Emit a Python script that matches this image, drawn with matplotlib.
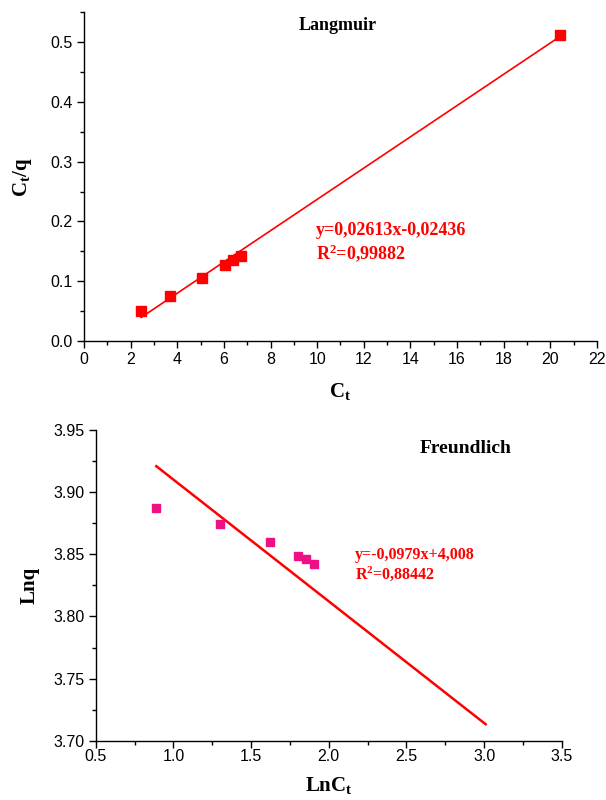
import matplotlib
matplotlib.use("Agg")
import matplotlib.pyplot as plt
from matplotlib.ticker import MultipleLocator
import numpy as np

plt.rcParams['mathtext.fontset'] = 'custom'
plt.rcParams['mathtext.rm'] = 'Liberation Serif'
plt.rcParams['mathtext.bf'] = 'Liberation Serif:bold'
plt.rcParams['mathtext.it'] = 'Liberation Serif:italic'
plt.rcParams['font.family'] = 'Liberation Sans'

# Langmuir data
lang_ct = [2.45, 3.70, 5.05, 6.05, 6.40, 6.75, 20.40]
lang_ctq = [0.050, 0.076, 0.105, 0.128, 0.136, 0.142, 0.511]
lang_slope, lang_int = 0.02613, -0.02436
lang_eq = "y=0,02613x-0,02436"
lang_r2 = "0,99882"

# Freundlich data
fr_lnct = [0.885, 1.30, 1.62, 1.80, 1.855, 1.905]
fr_lnq = [3.887, 3.874, 3.860, 3.849, 3.846, 3.842]
fr_slope, fr_int = -0.0979, 4.008
fr_line_x = [0.89, 3.01]
fr_eq = "y=-0,0979x+4,008"
fr_r2 = "0,88442"

fig = plt.figure(figsize=(6.06, 8.0), dpi=100)

serif = 'Liberation Serif'

def style(ax):
    for s in ['top', 'right']:
        ax.spines[s].set_visible(False)
    for s in ['left', 'bottom']:
        ax.spines[s].set_linewidth(1.0)
    ax.tick_params(which='major', direction='out', length=5, width=1, labelsize=11.5, pad=3)
    ax.tick_params(which='minor', direction='out', length=3, width=1)

# Top: Langmuir
ax1 = fig.add_axes([0.1386, 0.5735, 0.8465, 0.4115])
ax1.plot(lang_ct, lang_ctq, 's', color='#FF0000', markersize=7, zorder=3)
lx = np.array([lang_ct[0], lang_ct[-1]])
ax1.plot(lx, lang_slope * lx + lang_int, '-', color='#FF0000', lw=1.2)
ax1.set_xlim(0, 22)
ax1.set_ylim(0, 0.55)
ax1.xaxis.set_major_locator(MultipleLocator(2))
ax1.xaxis.set_minor_locator(MultipleLocator(1))
ax1.yaxis.set_minor_locator(MultipleLocator(0.05))
ax1.set_yticks([0.0, 0.1, 0.2, 0.3, 0.4, 0.5])
style(ax1)
ax1.set_xlabel(r'C$_\mathbf{t}$', fontsize=15, fontweight='bold', family=serif, labelpad=10)
ax1.set_ylabel(r'C$_\mathbf{t}$/q', fontsize=15, fontweight='bold', family=serif, labelpad=12)
ax1.text(10.9, 0.527, 'Langmuir', fontsize=13, fontweight='bold', family=serif,
         ha='center', va='center')
ax1.text(9.95, 0.185, lang_eq, fontsize=13, fontweight='bold', family=serif,
         color='#FF0000', ha='left', va='center')
ax1.text(9.95, 0.147, r'R$^\mathbf{2}$=' + lang_r2, fontsize=13, fontweight='bold',
         family=serif, color='#FF0000', ha='left', va='center')

# Bottom: Freundlich
ax2 = fig.add_axes([0.158, 0.074, 0.769, 0.3885])
ax2.plot(fr_lnct, fr_lnq, 's', color='#EE1185', markersize=5.3, zorder=3)
fx = np.array(fr_line_x)
ax2.plot(fx, fr_slope * fx + fr_int, '-', color='#FF0000', lw=1.8)
ax2.set_xlim(0.5, 3.5)
ax2.set_ylim(3.70, 3.95)
ax2.xaxis.set_major_locator(MultipleLocator(0.5))
ax2.xaxis.set_minor_locator(MultipleLocator(0.25))
ax2.yaxis.set_major_locator(MultipleLocator(0.05))
ax2.yaxis.set_minor_locator(MultipleLocator(0.025))
ax2.xaxis.set_major_formatter(plt.FormatStrFormatter('%.1f'))
ax2.yaxis.set_major_formatter(plt.FormatStrFormatter('%.2f'))
style(ax2)
ax2.tick_params(axis='x', which='major', pad=1)
ax2.set_xlabel(r'LnC$_\mathbf{t}$', fontsize=15, fontweight='bold', family=serif, labelpad=8)
ax2.set_ylabel('Lnq', fontsize=15, fontweight='bold', family=serif, labelpad=10)
ax2.text(2.88, 3.9355, 'Freundlich', fontsize=14, fontweight='bold', family=serif,
         ha='center', va='center')
ax2.text(2.168, 3.8495, fr_eq, fontsize=11.5, fontweight='bold', family=serif,
         color='#FF0000', ha='left', va='center')
ax2.text(2.168, 3.834, r'R$^\mathbf{2}$=' + fr_r2, fontsize=11.5, fontweight='bold',
         family=serif, color='#FF0000', ha='left', va='center')

fig.savefig('out.png', dpi=100)
